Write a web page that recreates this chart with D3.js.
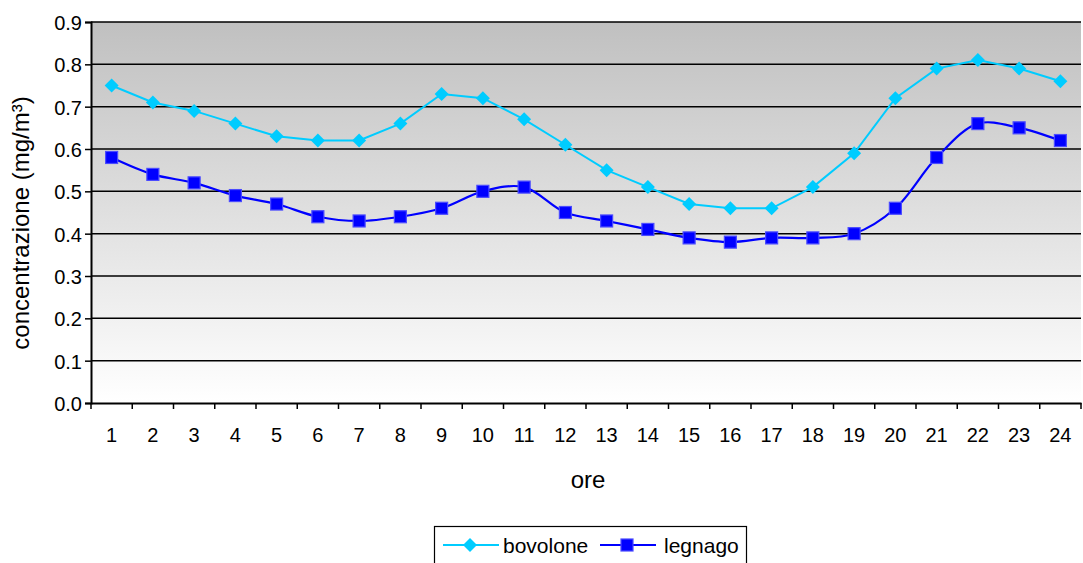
<!DOCTYPE html>
<html>
<head>
<meta charset="utf-8">
<script src="https://cdn.jsdelivr.net/npm/d3@7"></script>
<style>
  body { margin: 0; background: #fff; }
  text { font-family: "Liberation Sans", Arial, sans-serif; fill: #000; }
</style>
</head>
<body>
<div id="chart"></div>
<script>
var hours = ["1","2","3","4","5","6","7","8","9","10","11","12","13","14","15","16","17","18","19","20","21","22","23","24"];
var bovolone = [0.75,0.71,0.69,0.66,0.63,0.62,0.62,0.66,0.73,0.72,0.67,0.61,0.55,0.51,0.47,0.46,0.46,0.51,0.59,0.72,0.79,0.81,0.79,0.76];
var legnago = [0.58,0.54,0.52,0.49,0.47,0.44,0.43,0.44,0.46,0.50,0.51,0.45,0.43,0.41,0.39,0.38,0.39,0.39,0.40,0.46,0.58,0.66,0.65,0.62];
var yTicks = [0,0.1,0.2,0.3,0.4,0.5,0.6,0.7,0.8,0.9];

var W = 1083, H = 563;
var plotL = 91, plotT = 22, plotR = 1081, plotB = 403;

var svg = d3.select("#chart").append("svg")
    .attr("width", W).attr("height", H);

var grad = svg.append("defs").append("linearGradient")
    .attr("id", "bg").attr("x1", 0).attr("y1", 0).attr("x2", 0).attr("y2", 1);
grad.append("stop").attr("offset", "0%").attr("stop-color", "#c0c0c0");
grad.append("stop").attr("offset", "100%").attr("stop-color", "#ffffff");

var x = d3.scaleBand().domain(hours).range([plotL, plotR]);
var y = d3.scaleLinear().domain([0, 0.9]).range([plotB, plotT]);

svg.append("rect")
    .attr("x", plotL).attr("y", plotT)
    .attr("width", plotR - plotL).attr("height", plotB - plotT)
    .attr("fill", "url(#bg)");

// gridlines
svg.append("g").selectAll("line")
    .data(yTicks.slice(1))
    .enter().append("line")
    .attr("x1", plotL).attr("x2", plotR)
    .attr("y1", function(d) { return y(d); })
    .attr("y2", function(d) { return y(d); })
    .attr("stroke", "#000").attr("stroke-width", 1.5);

// y axis
var yAxis = svg.append("g").attr("transform", "translate(" + plotL + ",0)")
    .attr("font-size", 20)
    .call(d3.axisLeft(y).tickValues(yTicks).tickFormat(d3.format(".1f")).tickSize(6).tickPadding(3));
yAxis.attr("font-size", 20).attr("font-family", "Liberation Sans, Arial, sans-serif");
yAxis.select(".domain").attr("stroke", "#000").attr("stroke-width", 2);
yAxis.selectAll(".tick line").attr("stroke", "#000").attr("stroke-width", 1.5);
yAxis.selectAll(".tick text").attr("dy", "0.38em");

// x axis
var xAxis = svg.append("g").attr("transform", "translate(0," + plotB + ")")
    .call(d3.axisBottom(x).tickSize(0).tickPadding(25));
xAxis.attr("font-size", 20).attr("font-family", "Liberation Sans, Arial, sans-serif");
xAxis.select(".domain").attr("stroke", "#000").attr("stroke-width", 2);
svg.append("g").selectAll("line")
    .data(d3.range(hours.length + 1))
    .enter().append("line")
    .attr("x1", function(i) { return plotL + i * x.step(); })
    .attr("x2", function(i) { return plotL + i * x.step(); })
    .attr("y1", plotB).attr("y2", plotB + 6)
    .attr("stroke", "#000").attr("stroke-width", 1.5);

// titles
svg.append("text")
    .attr("x", 588).attr("y", 488)
    .attr("text-anchor", "middle")
    .style("font-size", "24px")
    .text("ore");
svg.append("text")
    .attr("transform", "translate(29,223) rotate(-90)")
    .attr("text-anchor", "middle")
    .style("font-size", "24px")
    .text("concentrazione (mg/m³)");

var cx = function(d, i) { return x(hours[i]) + x.bandwidth() / 2; };

var series = [
    { name: "bovolone", values: bovolone, color: "#00ccff", width: 2, shape: "diamond", curve: d3.curveLinear },
    { name: "legnago", values: legnago, color: "#0000ff", width: 2.2, shape: "square", curve: d3.curveCatmullRom.alpha(0.5) }
];

function drawMarker(g, shape, color, px, py) {
    if (shape === "diamond") {
        g.append("path")
            .attr("d", "M" + px + "," + (py - 7) + "L" + (px + 7) + "," + py + "L" + px + "," + (py + 7) + "L" + (px - 7) + "," + py + "Z")
            .attr("fill", color);
    } else {
        g.append("rect")
            .attr("x", px - 6).attr("y", py - 6)
            .attr("width", 12).attr("height", 12)
            .attr("fill", color)
            .attr("stroke", "#4a4aff").attr("stroke-width", 1.2);
    }
}

series.forEach(function(s) {
    var g = svg.append("g");
    var line = d3.line()
        .x(cx)
        .y(function(d) { return y(d); })
        .curve(s.curve);
    g.append("path")
        .datum(s.values)
        .attr("d", line)
        .attr("fill", "none")
        .attr("stroke", s.color)
        .attr("stroke-width", s.width);
    s.values.forEach(function(v, i) {
        drawMarker(g, s.shape, s.color, cx(v, i), y(v));
    });
});

// legend
var lg = svg.append("g");
lg.append("rect")
    .attr("x", 434.5).attr("y", 526.5)
    .attr("width", 312).attr("height", 45)
    .attr("fill", "#fff").attr("stroke", "#000").attr("stroke-width", 1.2);
var legendItems = [
    { s: series[0], x0: 443, tx: 503 },
    { s: series[1], x0: 600, tx: 664 }
];
legendItems.forEach(function(it) {
    var ly = 545;
    lg.append("line")
        .attr("x1", it.x0).attr("x2", it.x0 + 56)
        .attr("y1", ly).attr("y2", ly)
        .attr("stroke", it.s.color).attr("stroke-width", 2);
    drawMarker(lg, it.s.shape, it.s.color, it.x0 + 27, ly);
    lg.append("text")
        .attr("x", it.tx).attr("y", 553)
        .style("font-size", "21px")
        .text(it.s.name);
});
</script>
</body>
</html>
